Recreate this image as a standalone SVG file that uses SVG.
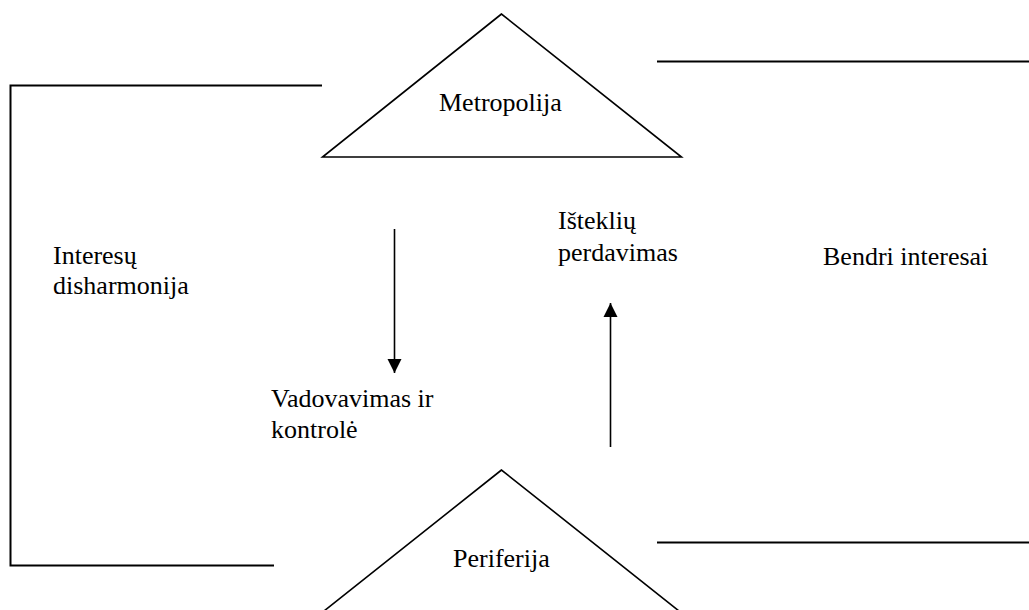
<svg xmlns="http://www.w3.org/2000/svg" width="1029" height="610" viewBox="0 0 1029 610">
<defs>
<marker id="ah" markerWidth="14" markerHeight="16" refX="14" refY="7" orient="auto" markerUnits="userSpaceOnUse" viewBox="0 0 14 14">
<path d="M0,0 L14,7 L0,14 Z" fill="#000"/>
</marker>
<style>
.t{font-family:"Liberation Serif","Times New Roman",serif;font-size:26px;fill:#000}
.s{fill:none;stroke:#000;stroke-width:1.6}
.b{fill:none;stroke:#000;stroke-width:2}
</style>
</defs>
<rect width="1029" height="610" fill="#fff"/>
<g id="metropolija">
<polygon class="s" points="501.5,14 322.5,157 681.5,157"/>
<text class="t" x="439" y="111">Metropolija</text>
</g>
<g id="periferija">
<polygon class="s" points="501.5,470 321.5,613 681.5,613"/>
<text class="t" x="453" y="567">Periferija</text>
</g>
<g id="interesu-disharmonija">
<text class="t" x="53" y="264">Interesų</text>
<text class="t" x="53" y="294">disharmonija</text>
</g>
<g id="bendri-interesai">
<text class="t" x="823" y="265">Bendri interesai</text>
</g>
<g id="vadovavimas">
<text class="t" x="271" y="407">Vadovavimas ir</text>
<text class="t" x="271" y="438">kontrolė</text>
</g>
<g id="istekliu">
<text class="t" x="558" y="229">Išteklių</text>
<text class="t" x="558" y="261">perdavimas</text>
</g>
<g id="connectors">
<path class="b" d="M322,85.5 H10.5 V565.5 H274"/>
<path class="b" d="M657,61.5 H1029"/>
<path class="b" d="M657,542.5 H1029"/>
<line class="s" x1="394.5" y1="229" x2="394.5" y2="373" marker-end="url(#ah)"/>
<line class="s" x1="610.5" y1="447" x2="610.5" y2="303" marker-end="url(#ah)"/>
</g>
</svg>
